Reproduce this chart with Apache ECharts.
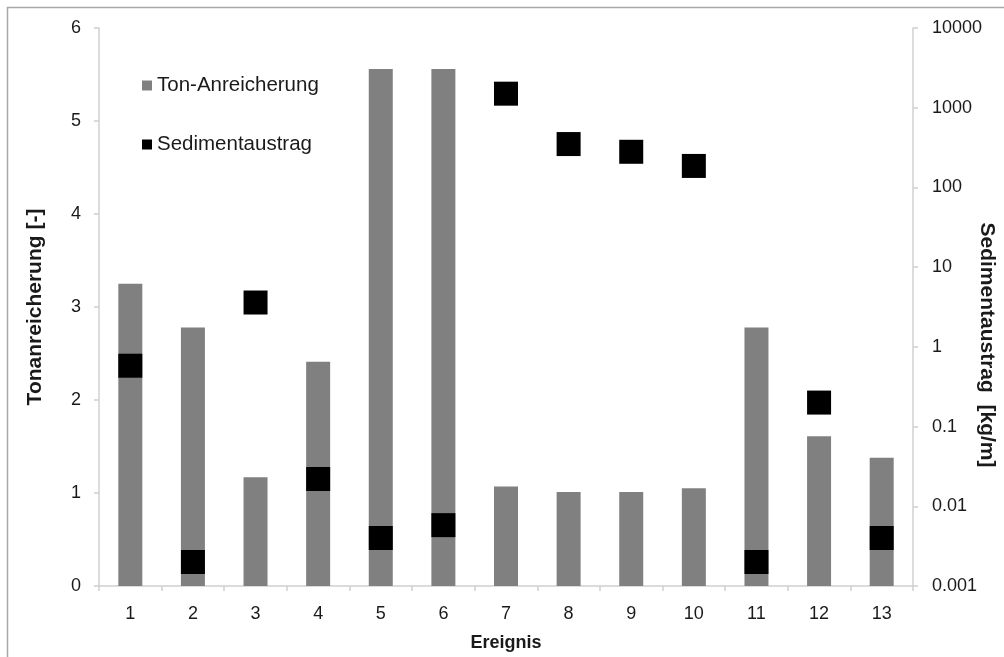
<!DOCTYPE html>
<html>
<head>
<meta charset="utf-8">
<script src="https://cdn.jsdelivr.net/npm/echarts@6/dist/echarts.min.js"></script>
<style>
html,body{margin:0;padding:0;background:#fff;}
#chart{width:1004px;height:657px;}
</style>
</head>
<body>
<div id="chart"></div>
<script>
var categories = ['1','2','3','4','5','6','7','8','9','10','11','12','13'];
var tonAnreicherung = [3.25, 2.78, 1.17, 2.41, 5.56, 5.56, 1.07, 1.01, 1.01, 1.05, 2.78, 1.61, 1.38];
var sedimentaustrag = [0.58, 0.002, 3.6, 0.022, 0.004, 0.0058, 1500, 350, 280, 186, 0.002, 0.2, 0.004];
var leftTicks = [0, 1, 2, 3, 4, 5, 6];
var rightTicks = [0.001, 0.01, 0.1, 1, 10, 100, 1000, 10000];
var rightAxisTitle = 'Sedimentaustrag  [kg/m]';

var chart = echarts.init(document.getElementById('chart'));
var font = 'Liberation Sans, Arial, sans-serif';
var axisLineColor = '#d0d0d0';
var textColor = '#1a1a1a';

var option = {
  backgroundColor: '#ffffff',
  animation: false,
  textStyle: { fontFamily: font },
  graphic: [{
    type: 'rect',
    shape: { x: 7.5, y: 7.5, width: 1010, height: 670 },
    style: { fill: 'none', stroke: '#a8a8a8', lineWidth: 1.5 },
    silent: true, z: -1
  }, {
    type: 'text',
    x: 987,
    y: 345,
    rotation: -Math.PI / 2,
    style: {
      text: rightAxisTitle,
      fontSize: 21, fontWeight: 'bold', fill: textColor, fontFamily: font,
      align: 'center', verticalAlign: 'middle'
    },
    silent: true
  }],
  legend: {
    orient: 'vertical',
    left: 137,
    top: 70,
    itemWidth: 10,
    itemHeight: 10,
    itemGap: 38,
    textStyle: { fontSize: 20.5, color: textColor, fontFamily: font },
    data: [
      { name: 'Ton-Anreicherung', icon: 'rect' },
      { name: 'Sedimentaustrag', icon: 'rect' }
    ]
  },
  grid: { left: 99, right: 91, top: 28, bottom: 71, containLabel: false, outerBoundsMode: 'none' },
  xAxis: {
    type: 'category',
    data: categories,
    boundaryGap: true,
    name: 'Ereignis',
    nameLocation: 'middle',
    nameGap: 48,
    nameTextStyle: { fontSize: 18, fontWeight: 'bold', color: textColor, fontFamily: font },
    axisLine: { lineStyle: { color: axisLineColor, width: 1.5 } },
    axisTick: { show: true, alignWithLabel: false, length: 5, lineStyle: { color: axisLineColor, width: 1.5 } },
    axisLabel: { fontSize: 18, color: textColor, margin: 19, fontFamily: font },
    splitLine: { show: false }
  },
  yAxis: [{
    type: 'value',
    min: leftTicks[0],
    max: leftTicks[leftTicks.length - 1],
    interval: 1,
    name: 'Tonanreicherung [-]',
    nameLocation: 'middle',
    nameGap: 53,
    nameTextStyle: { fontSize: 21, fontWeight: 'bold', color: textColor, fontFamily: font },
    axisLine: { show: true, lineStyle: { color: axisLineColor, width: 1.5 } },
    axisTick: { show: true, length: 5, lineStyle: { color: axisLineColor, width: 1.5 } },
    axisLabel: { fontSize: 18, color: textColor, margin: 18, fontFamily: font },
    splitLine: { show: false }
  }, {
    type: 'log',
    logBase: 10,
    min: rightTicks[0],
    max: rightTicks[rightTicks.length - 1],
    position: 'right',
    axisLine: { show: true, lineStyle: { color: axisLineColor, width: 1.5 } },
    axisTick: { show: true, length: 5, lineStyle: { color: axisLineColor, width: 1.5 } },
    axisLabel: {
      fontSize: 18, color: textColor, margin: 19, fontFamily: font,
      formatter: function (v) { return String(Number(Number(v).toPrecision(6))); }
    },
    splitLine: { show: false }
  }],
  series: [{
    name: 'Ton-Anreicherung',
    type: 'bar',
    yAxisIndex: 0,
    data: tonAnreicherung,
    barWidth: 24,
    itemStyle: { color: '#808080' },
    z: 2
  }, {
    name: 'Sedimentaustrag',
    type: 'scatter',
    yAxisIndex: 1,
    data: sedimentaustrag,
    symbol: 'rect',
    symbolSize: 24,
    itemStyle: { color: '#000000', opacity: 1 },
    z: 3
  }]
};
chart.setOption(option);
</script>
</body>
</html>
